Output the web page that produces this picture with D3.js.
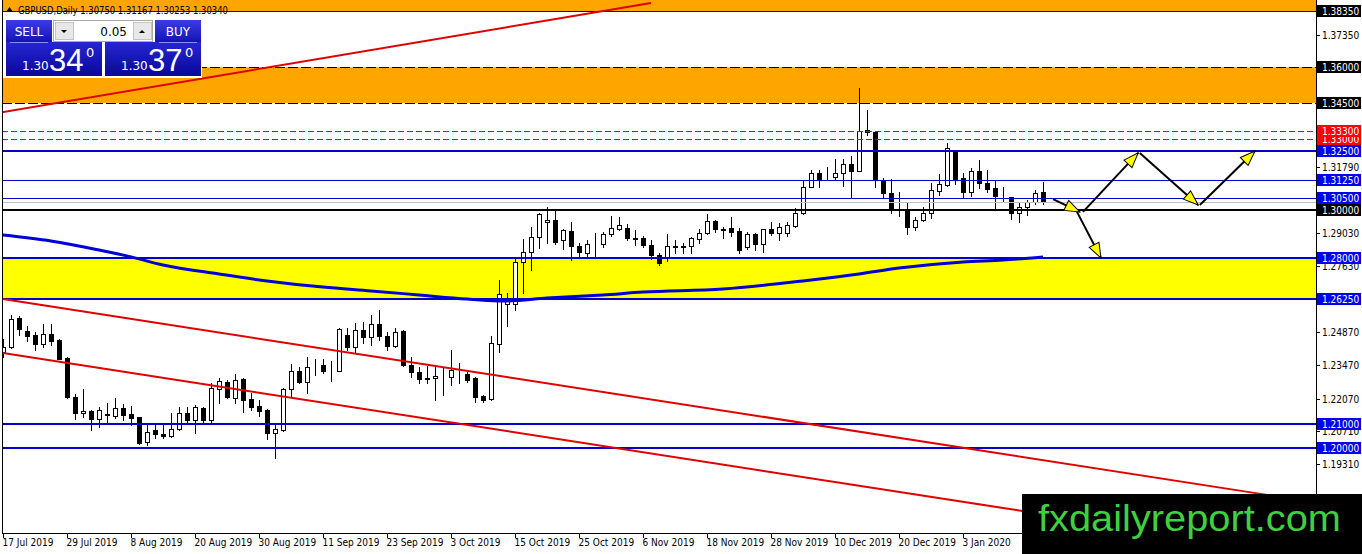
<!DOCTYPE html>
<html>
<head>
<meta charset="utf-8">
<script src="https://cdn.jsdelivr.net/npm/d3@7"></script>
<style>
  html, body { margin: 0; padding: 0; background: #fff; overflow: hidden; }
  svg { display: block; }
  .mt { font-family: "DejaVu Sans Condensed", "DejaVu Sans", sans-serif; font-stretch: condensed; }
</style>
</head>
<body>
<svg id="chart" width="1362" height="554"></svg>
<script>
// GBPUSD daily bars (17 Jul 2019 .. 17 Jan 2020)
var opens = [
  1.2403, 1.2424, 1.2546, 1.2492, 1.2475, 1.2437, 1.2479, 1.2454, 1.2378, 1.2214,
  1.2147, 1.2155, 1.2122, 1.2139, 1.2134, 1.2168, 1.2143, 1.2130, 1.2025, 1.2076,
  1.2059, 1.2050, 1.2080, 1.2147, 1.2118, 1.2168, 1.2118, 1.2248, 1.2277, 1.2210,
  1.2290, 1.2206, 1.2177, 1.2160, 1.2063, 1.2076, 1.2248, 1.2324, 1.2277, 1.2349,
  1.2349, 1.2324, 1.2324, 1.2475, 1.2424, 1.2496, 1.2466, 1.2521, 1.2471, 1.2429,
  1.2492, 1.2349, 1.2319, 1.2294, 1.2294, 1.2298, 1.2298, 1.2328, 1.2311, 1.2294,
  1.2219, 1.2206, 1.2437, 1.2605, 1.2605, 1.2782, 1.2824, 1.2887, 1.2950, 1.2958,
  1.2874, 1.2912, 1.2849, 1.2819, 1.2857, 1.2857, 1.2899, 1.2920, 1.2924, 1.2882,
  1.2882, 1.2853, 1.2811, 1.2798, 1.2849, 1.2845, 1.2849, 1.2878, 1.2903, 1.2954,
  1.2920, 1.2924, 1.2912, 1.2845, 1.2899, 1.2857, 1.2920, 1.2903, 1.2903, 1.2933,
  1.2987, 1.3097, 1.3156, 1.3135, 1.3139, 1.3156, 1.3193, 1.3164, 1.3336, 1.3328,
  1.3122, 1.3071, 1.3000, 1.3000, 1.2929, 1.2958, 1.2987, 1.3080, 1.3105, 1.3244,
  1.3135, 1.3076, 1.3164, 1.3114, 1.3092, 1.3059, 1.3055, 1.2987, 1.3013, 1.3034,
  1.3075
];
var highs = [
  1.2458, 1.2559, 1.2555, 1.2513, 1.2487, 1.2521, 1.2521, 1.2458, 1.2382, 1.2227,
  1.2248, 1.2160, 1.2172, 1.2189, 1.2210, 1.2185, 1.2177, 1.2130, 1.2097, 1.2097,
  1.2097, 1.2147, 1.2172, 1.2172, 1.2181, 1.2172, 1.2273, 1.2294, 1.2286, 1.2311,
  1.2294, 1.2231, 1.2202, 1.2164, 1.2105, 1.2252, 1.2353, 1.2341, 1.2382, 1.2374,
  1.2374, 1.2366, 1.2504, 1.2504, 1.2525, 1.2529, 1.2559, 1.2580, 1.2487, 1.2504,
  1.2496, 1.2382, 1.2341, 1.2345, 1.2341, 1.2341, 1.2412, 1.2357, 1.2319, 1.2298,
  1.2223, 1.2471, 1.2706, 1.2651, 1.2798, 1.2878, 1.2929, 1.2987, 1.3013, 1.3000,
  1.2920, 1.2950, 1.2861, 1.2874, 1.2903, 1.2908, 1.2975, 1.2971, 1.2941, 1.2916,
  1.2891, 1.2874, 1.2819, 1.2899, 1.2874, 1.2861, 1.2887, 1.2920, 1.2983, 1.2958,
  1.2929, 1.2971, 1.2924, 1.2908, 1.2903, 1.2922, 1.2950, 1.2945, 1.2950, 1.3008,
  1.3122, 1.3168, 1.3168, 1.3181, 1.3214, 1.3214, 1.3227, 1.3513, 1.3420, 1.3332,
  1.3135, 1.3130, 1.3076, 1.3029, 1.2971, 1.3013, 1.3114, 1.3151, 1.3282, 1.3244,
  1.3156, 1.3177, 1.3210, 1.3168, 1.3126, 1.3097, 1.3055, 1.3029, 1.3042, 1.3084,
  1.3117
];
var lows = [
  1.2382, 1.2422, 1.2475, 1.2450, 1.2412, 1.2424, 1.2433, 1.2372, 1.2210, 1.2122,
  1.2130, 1.2076, 1.2088, 1.2105, 1.2126, 1.2118, 1.2097, 1.2017, 1.2013, 1.2042,
  1.2042, 1.2046, 1.2076, 1.2105, 1.2063, 1.2109, 1.2105, 1.2189, 1.2210, 1.2189,
  1.2151, 1.2160, 1.2134, 1.2038, 1.1958, 1.2071, 1.2214, 1.2273, 1.2231, 1.2307,
  1.2315, 1.2282, 1.2322, 1.2412, 1.2399, 1.2441, 1.2433, 1.2454, 1.2412, 1.2424,
  1.2345, 1.2298, 1.2273, 1.2273, 1.2202, 1.2223, 1.2265, 1.2273, 1.2277, 1.2193,
  1.2193, 1.2202, 1.2403, 1.2513, 1.2580, 1.2651, 1.2748, 1.2840, 1.2861, 1.2857,
  1.2836, 1.2790, 1.2807, 1.2807, 1.2807, 1.2845, 1.2891, 1.2918, 1.2874, 1.2853,
  1.2845, 1.2794, 1.2769, 1.2786, 1.2819, 1.2819, 1.2819, 1.2861, 1.2901, 1.2908,
  1.2882, 1.2891, 1.2819, 1.2836, 1.2832, 1.2824, 1.2895, 1.2874, 1.2891, 1.2929,
  1.2983, 1.3095, 1.3097, 1.3126, 1.3126, 1.3101, 1.3050, 1.3162, 1.3315, 1.3097,
  1.3055, 1.2987, 1.2975, 1.2899, 1.2916, 1.2954, 1.2966, 1.3063, 1.3101, 1.3109,
  1.3050, 1.3059, 1.3093, 1.3076, 1.3008, 1.3038, 1.2962, 1.2950, 1.2979, 1.3025,
  1.3025
];
var closes = [
  1.2424, 1.2542, 1.2500, 1.2471, 1.2437, 1.2479, 1.2450, 1.2374, 1.2214, 1.2147,
  1.2155, 1.2122, 1.2160, 1.2141, 1.2168, 1.2139, 1.2126, 1.2021, 1.2067, 1.2059,
  1.2050, 1.2080, 1.2147, 1.2118, 1.2172, 1.2118, 1.2252, 1.2282, 1.2214, 1.2286,
  1.2202, 1.2172, 1.2155, 1.2063, 1.2080, 1.2248, 1.2324, 1.2277, 1.2341, 1.2347,
  1.2324, 1.2322, 1.2500, 1.2424, 1.2496, 1.2466, 1.2521, 1.2471, 1.2429, 1.2487,
  1.2349, 1.2319, 1.2290, 1.2292, 1.2303, 1.2300, 1.2328, 1.2326, 1.2286, 1.2214,
  1.2202, 1.2441, 1.2647, 1.2622, 1.2782, 1.2824, 1.2887, 1.2983, 1.2958, 1.2866,
  1.2916, 1.2849, 1.2824, 1.2857, 1.2859, 1.2899, 1.2924, 1.2937, 1.2882, 1.2880,
  1.2853, 1.2811, 1.2777, 1.2849, 1.2845, 1.2847, 1.2882, 1.2903, 1.2954, 1.2920,
  1.2918, 1.2908, 1.2832, 1.2899, 1.2857, 1.2920, 1.2903, 1.2929, 1.2937, 1.2987,
  1.3097, 1.3156, 1.3131, 1.3133, 1.3156, 1.3193, 1.3164, 1.3332, 1.3328, 1.3126,
  1.3071, 1.3004, 1.2998, 1.2929, 1.2958, 1.2987, 1.3084, 1.3109, 1.3261, 1.3130,
  1.3076, 1.3164, 1.3114, 1.3088, 1.3059, 1.3057, 1.2987, 1.3013, 1.3034, 1.3071,
  1.3034
];

var firstDay = "2019-07-17";
var holidays = ["2019-12-25", "2020-01-01"];
var dateLabels = [
  "17 Jul 2019", "29 Jul 2019", "8 Aug 2019", "20 Aug 2019", "30 Aug 2019",
  "11 Sep 2019", "23 Sep 2019", "3 Oct 2019", "15 Oct 2019", "25 Oct 2019",
  "6 Nov 2019", "18 Nov 2019", "28 Nov 2019", "10 Dec 2019", "20 Dec 2019",
  "3 Jan 2020"
];

// moving average (thick blue), sampled at bar indexes
var maIndex = [0, 6, 12, 16, 20, 27, 33, 40, 46, 52, 58, 63, 68, 75, 80, 90, 100, 107, 112, 120, 125, 130];
var maValues = [1.2895, 1.2870, 1.2832, 1.2803, 1.2769, 1.2731, 1.2702, 1.2676, 1.2660, 1.2643, 1.2626,
                1.2618, 1.2630, 1.2643, 1.2655, 1.2668, 1.2702, 1.2731, 1.2756, 1.2782, 1.2790, 1.2803];

// drawn objects
var topLevel = 1.3835;
var orangeZone = [1.3450, 1.3600];
var yellowZone = [1.2625, 1.2800];
var redLevels = [1.3300, 1.3330];
var majorLevels = [1.3250, 1.2800, 1.2625, 1.2100, 1.2000];
var minorLevels = [1.3125, 1.3050];
var pivotLevel = 1.3000;
var bidPrice = 1.3034;
var plainTicks = [1.3735, 1.3179, 1.2903, 1.2763, 1.2487, 1.2347, 1.2207, 1.2071, 1.1931, 1.1791];

// trend lines as [bar index, price] anchor pairs
var riseLineIdx = [-1, 81], riseLinePrice = [1.3406, 1.3870];
var chanTopIdx = [0, 158], chanTopPrice = [1.2626, 1.1803];
var chanBotIdx = [0, 158], chanBotPrice = [1.2399, 1.1576];

// projected path arrows
var arrowFromIdx = [131.25, 135.0, 142.1, 149.6, 134.25];
var arrowFromPrice = [1.3046, 1.2992, 1.3240, 1.3021, 1.2992];
var arrowToIdx = [134.6, 141.9, 149.4, 156.5, 137.25];
var arrowToPrice = [1.2992, 1.3240, 1.3021, 1.3248, 1.2798];

var titleText = "GBPUSD,Daily  1.30750 1.31167 1.30253 1.30340";
var sellBig = "34", buyBig = "37", pricePrefix = "1.30", lotSize = "0.05";

// ---------------------------------------------------------------

var svg = d3.select("#chart");
var plotLeft = 2, plotRight = 1316, plotBottom = 533;

var x = d3.scaleLinear().domain([0, 130]).range([3, 1043]);
var y = d3.scaleLinear().domain([1.2, 1.3]).range([448, 210]);
var fmt5 = d3.format(".5f");

function crisp(v) { return Math.round(v) + 0.5; }

// trading days
var isoFmt = d3.timeFormat("%Y-%m-%d");
var dayFmt = d3.timeFormat("%-d %b %Y");
var dates = [];
for (var d = d3.timeParse("%Y-%m-%d")(firstDay); dates.length < opens.length; d = d3.timeDay.offset(d, 1)) {
  var dow = d.getDay();
  if (dow === 0 || dow === 6 || holidays.indexOf(isoFmt(d)) >= 0) continue;
  dates.push(d);
}
var bars = dates.map(function(dt, i) {
  return { i: i, date: dt, o: opens[i], h: highs[i], l: lows[i], c: closes[i] };
});

var defs = svg.append("defs");
defs.append("clipPath").attr("id", "plotClip")
  .append("rect").attr("x", plotLeft).attr("y", 0)
  .attr("width", plotRight - plotLeft).attr("height", plotBottom);

defs.append("marker")
  .attr("id", "yhead").attr("markerUnits", "userSpaceOnUse")
  .attr("viewBox", "-1 -7 17 14").attr("markerWidth", 17).attr("markerHeight", 14)
  .attr("refX", 15).attr("refY", 0).attr("orient", "auto")
  .append("path").attr("d", "M0,-5.5L15,0L0,5.5Z")
  .attr("fill", "#ffff00").attr("stroke", "#000").attr("stroke-width", 1);

var gradSpec = [["btnBlue", "#3c3ce6", "#1414b4"], ["priceBlue", "#2626d2", "#08089a"]];
gradSpec.forEach(function(g) {
  var lg = defs.append("linearGradient").attr("id", g[0]).attr("x1", 0).attr("y1", 0).attr("x2", 0).attr("y2", 1);
  lg.append("stop").attr("offset", "0%").attr("stop-color", g[1]);
  lg.append("stop").attr("offset", "100%").attr("stop-color", g[2]);
});

var plot = svg.append("g").attr("clip-path", "url(#plotClip)");

// background zones
plot.append("rect").attr("x", plotLeft).attr("y", 0)
  .attr("width", plotRight - plotLeft).attr("height", y(topLevel))
  .attr("fill", "#ffa500");
plot.append("rect").attr("x", plotLeft).attr("y", y(orangeZone[1]))
  .attr("width", plotRight - plotLeft).attr("height", y(orangeZone[0]) - y(orangeZone[1]))
  .attr("fill", "#ffa500");
plot.append("rect").attr("x", plotLeft).attr("y", y(yellowZone[1]))
  .attr("width", plotRight - plotLeft).attr("height", y(yellowZone[0]) - y(yellowZone[1]))
  .attr("fill", "#ffff00");

// candles
var candles = plot.append("g").selectAll("g").data(bars).join("g");
candles.append("line")
  .attr("x1", function(b) { return Math.round(x(b.i)) + 0.5; })
  .attr("x2", function(b) { return Math.round(x(b.i)) + 0.5; })
  .attr("y1", function(b) { return Math.round(y(b.h)); })
  .attr("y2", function(b) { return Math.round(y(b.l)) + 1; })
  .attr("stroke", "#000").attr("stroke-width", 1);
candles.append("rect")
  .attr("x", function(b) { return Math.round(x(b.i)) - 1.5; })
  .attr("width", 4)
  .attr("y", function(b) { return crisp(y(Math.max(b.o, b.c))); })
  .attr("height", function(b) {
    return Math.max(0, Math.round(y(Math.min(b.o, b.c))) - Math.round(y(Math.max(b.o, b.c))));
  })
  .attr("fill", function(b) { return b.c >= b.o ? "#fff" : "#000"; })
  .attr("stroke", "#000").attr("stroke-width", 1);

// horizontal levels
function hline(price, color, width, dash) {
  var yy = width % 2 ? crisp(y(price)) : Math.round(y(price));
  plot.append("line")
    .attr("x1", plotLeft).attr("x2", plotRight).attr("y1", yy).attr("y2", yy)
    .attr("stroke", color).attr("stroke-width", width)
    .attr("stroke-dasharray", dash || null)
    .attr("shape-rendering", "crispEdges");
}
hline(topLevel, "#1a1a1a", 1);
orangeZone.forEach(function(p) { hline(p, "#000", 1, "10,3"); });
redLevels.forEach(function(p) { hline(p, "#e00000", 1, "6,3"); });
majorLevels.forEach(function(p) { hline(p, "#0000c8", 2); });
minorLevels.forEach(function(p) { hline(p, "#0000c8", 1); });
hline(bidPrice, "#c0c0c0", 1);
hline(pivotLevel, "#000", 2);

// trend lines
var trendLine = d3.line().x(function(p) { return x(p[0]); }).y(function(p) { return y(p[1]); });
[[riseLineIdx, riseLinePrice], [chanTopIdx, chanTopPrice], [chanBotIdx, chanBotPrice]].forEach(function(t) {
  plot.append("path")
    .attr("d", trendLine(d3.zip(t[0], t[1])))
    .attr("fill", "none").attr("stroke", "#e00000").attr("stroke-width", 2);
});

// moving average
plot.append("path")
  .attr("d", d3.line().curve(d3.curveMonotoneX)
    .x(function(p) { return x(p[0]); }).y(function(p) { return y(p[1]); })(d3.zip(maIndex, maValues)))
  .attr("fill", "none").attr("stroke", "#0000d8").attr("stroke-width", 3);

// projection arrows
arrowFromIdx.forEach(function(fi, k) {
  plot.append("line")
    .attr("x1", x(fi)).attr("y1", y(arrowFromPrice[k]))
    .attr("x2", x(arrowToIdx[k])).attr("y2", y(arrowToPrice[k]))
    .attr("stroke", "#000").attr("stroke-width", 2)
    .attr("marker-end", "url(#yhead)");
});

// frame
svg.append("line").attr("x1", plotLeft + 0.5).attr("x2", plotLeft + 0.5).attr("y1", 0).attr("y2", plotBottom)
  .attr("stroke", "#000");
svg.append("line").attr("x1", plotRight + 0.5).attr("x2", plotRight + 0.5).attr("y1", 0).attr("y2", 554)
  .attr("stroke", "#000");
svg.append("line").attr("x1", plotLeft).attr("x2", plotRight + 1).attr("y1", plotBottom + 0.5).attr("y2", plotBottom + 0.5)
  .attr("stroke", "#000");

// price axis
var axisG = svg.append("g").attr("class", "mt").attr("font-size", "10px");
plainTicks.forEach(function(p) {
  var yy = crisp(y(p));
  axisG.append("line").attr("x1", plotRight).attr("x2", plotRight + 4).attr("y1", yy).attr("y2", yy).attr("stroke", "#000");
  axisG.append("text").attr("x", plotRight + 6).attr("y", Math.round(y(p)) + 4).attr("fill", "#000").text(fmt5(p));
});
function priceTag(p, bg, fg, withText) {
  var yy = Math.round(y(p));
  axisG.append("rect").attr("x", plotRight + 1).attr("y", yy - 6).attr("width", 44).attr("height", 12).attr("fill", bg);
  if (withText === false) return;
  axisG.append("text").attr("x", plotRight + 6).attr("y", yy + 4).attr("fill", fg).text(fmt5(p));
}
// the bid tag is almost fully covered by its neighbours in the reference
priceTag(bidPrice, "#c0c0c0", "#000", false);
priceTag(redLevels[0], "#ff0000", "#fff");
priceTag(redLevels[1], "#ff0000", "#fff");
priceTag(topLevel, "#000", "#fff");
orangeZone.forEach(function(p) { priceTag(p, "#000", "#fff"); });
minorLevels.forEach(function(p) { priceTag(p, "#0000f0", "#fff"); });
majorLevels.forEach(function(p) { priceTag(p, "#0000f0", "#fff"); });
priceTag(pivotLevel, "#000", "#fff");

// time axis
var timeG = svg.append("g").attr("class", "mt").attr("font-size", "10px");
dateLabels.forEach(function(lbl) {
  var idx = dates.findIndex(function(dt) { return dayFmt(dt) === lbl; });
  if (idx < 0) return;
  var xx = Math.round(x(idx)) + 0.5;
  timeG.append("line").attr("x1", xx).attr("x2", xx).attr("y1", plotBottom).attr("y2", plotBottom + 5).attr("stroke", "#000");
  timeG.append("text").attr("x", xx - 1).attr("y", plotBottom + 13).attr("fill", "#000").text(lbl);
});

// title
svg.append("path").attr("d", "M6,12L13,12L9.5,7Z").attr("fill", "#000");
svg.append("text").attr("class", "mt").attr("x", 18).attr("y", 14).attr("font-size", "10px")
  .attr("textLength", 210).attr("lengthAdjust", "spacingAndGlyphs").attr("fill", "#000").text(titleText);

// one-click trading panel
var panel = svg.append("g").attr("font-family", "'DejaVu Sans', sans-serif");
panel.append("rect").attr("x", 3).attr("y", 17).attr("width", 199).attr("height", 61).attr("fill", "#fff");
[[6, "SELL"], [155, "BUY"]].forEach(function(b) {
  panel.append("rect").attr("x", b[0]).attr("y", 20).attr("width", 46).attr("height", 22).attr("fill", "url(#btnBlue)");
  panel.append("text").attr("x", b[0] + 23).attr("y", 36).attr("text-anchor", "middle")
    .attr("font-size", "12px").attr("fill", "#fff").text(b[1]);
});
[[6, sellBig], [105, buyBig]].forEach(function(b) {
  panel.append("rect").attr("x", b[0]).attr("y", 42).attr("width", 96).attr("height", 34).attr("fill", "url(#priceBlue)");
  panel.append("text").attr("x", b[0] + 16).attr("y", 70).attr("font-size", "12px").attr("fill", "#fff").text(pricePrefix);
  panel.append("text").attr("x", b[0] + 43).attr("y", 71).attr("font-family", "'Liberation Sans', Arial, sans-serif")
    .attr("font-size", "31px").attr("fill", "#fff").text(b[1]);
  panel.append("text").attr("x", b[0] + 80).attr("y", 57).attr("font-size", "13px").attr("fill", "#fff").text("0");
});
[[10, 48], [159, 197]].forEach(function(s) {
  panel.append("line").attr("x1", s[0]).attr("x2", s[1]).attr("y1", 42.5).attr("y2", 42.5).attr("stroke", "#8c8cff");
});
panel.append("rect").attr("x", 53.5).attr("y", 20.5).attr("width", 99).attr("height", 21)
  .attr("fill", "#fff").attr("stroke", "#a8a8a8");
[[55, "M61,30L67,30L64,33Z"], [133, "M139,33L145,33L142,30Z"]].forEach(function(b) {
  panel.append("rect").attr("x", b[0] + 0.5).attr("y", 22.5).attr("width", 18).attr("height", 17)
    .attr("fill", "#e8e8e8").attr("stroke", "#c4c4c4");
  panel.append("path").attr("d", b[1]).attr("fill", "#000");
});
panel.append("text").attr("x", 127).attr("y", 36).attr("text-anchor", "end")
  .attr("font-size", "12px").attr("fill", "#000").text(lotSize);

// watermark
svg.append("rect").attr("x", 1022).attr("y", 494).attr("width", 340).attr("height", 60).attr("fill", "#000");
svg.append("text").attr("x", 1038).attr("y", 531)
  .attr("font-family", "'Liberation Sans', Arial, sans-serif").attr("font-size", "37px")
  .attr("textLength", 303).attr("lengthAdjust", "spacingAndGlyphs")
  .attr("fill", "#3fd03f").text("fxdailyreport.com");
</script>
</body>
</html>
